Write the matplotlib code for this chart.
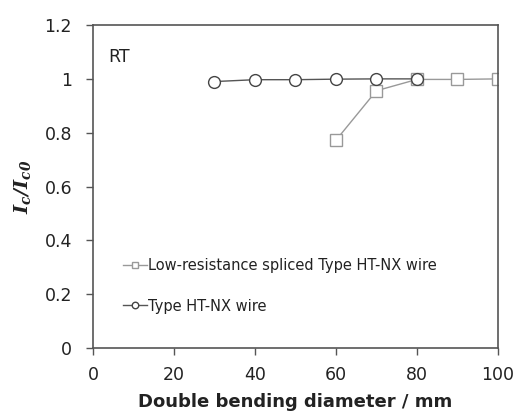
import matplotlib
matplotlib.use("Agg")
import matplotlib.pyplot as plt

# data
wire_d = [30, 40, 50, 60, 70, 80]
wire_ic = [0.99, 0.997, 0.997, 0.999, 1.0, 1.0]
splice_d = [60, 70, 80, 90, 100]
splice_ic = [0.772, 0.956, 0.998, 0.998, 1.0]

plt.rcParams['font.family'] = 'DejaVu Sans'
plt.rcParams['mathtext.fontset'] = 'dejavuserif'

fig = plt.figure(figsize=(5.16, 4.17), dpi=100)
ax = fig.add_axes([0.180, 0.165, 0.785, 0.775])

ax.plot(splice_d, splice_ic, color='#999999', lw=1.0, marker='s', ms=8,
        mfc='white', mec='#999999', mew=1.0,
        label='Low-resistance spliced Type HT-NX wire')
ax.plot(wire_d, wire_ic, color='#555555', lw=1.0, marker='o', ms=8.5,
        mfc='white', mec='#444444', mew=1.0, label='Type HT-NX wire')

ax.set_xlim(0, 100)
ax.set_ylim(0, 1.2)
ax.set_xticks([0, 20, 40, 60, 80, 100])
ax.set_yticks([0, 0.2, 0.4, 0.6, 0.8, 1.0, 1.2])
ax.set_yticklabels(['0', '0.2', '0.4', '0.6', '0.8', '1', '1.2'])
ax.tick_params(direction='out', length=5, width=1, color='#555555',
               labelsize=12.5, labelcolor='#222222')
ax.tick_params(axis='y', pad=10)
ax.tick_params(axis='x', pad=8)
for s in ax.spines.values():
    s.set_color('#555555')
    s.set_linewidth(1.2)

ax.set_xlabel('Double bending diameter / mm', fontsize=13, fontweight='bold',
              color='#222222', labelpad=6)
ax.set_ylabel(r'$\mathbfit{I_c/I_{c0}}$', fontsize=14, color='#222222',
              labelpad=8)

ax.text(0.065, 0.901, 'RT', transform=ax.transAxes, fontsize=12.5,
        color='#222222', va='center', ha='center')

leg = ax.legend(loc='center left', bbox_to_anchor=(0.074, 0.193), frameon=False,
                fontsize=10.5, handlelength=1.65, handletextpad=0.05,
                labelspacing=1.75, markerscale=0.55, borderaxespad=0,
                borderpad=0)
for t in leg.get_texts():
    t.set_color('#222222')

fig.savefig('out.png', dpi=100)
